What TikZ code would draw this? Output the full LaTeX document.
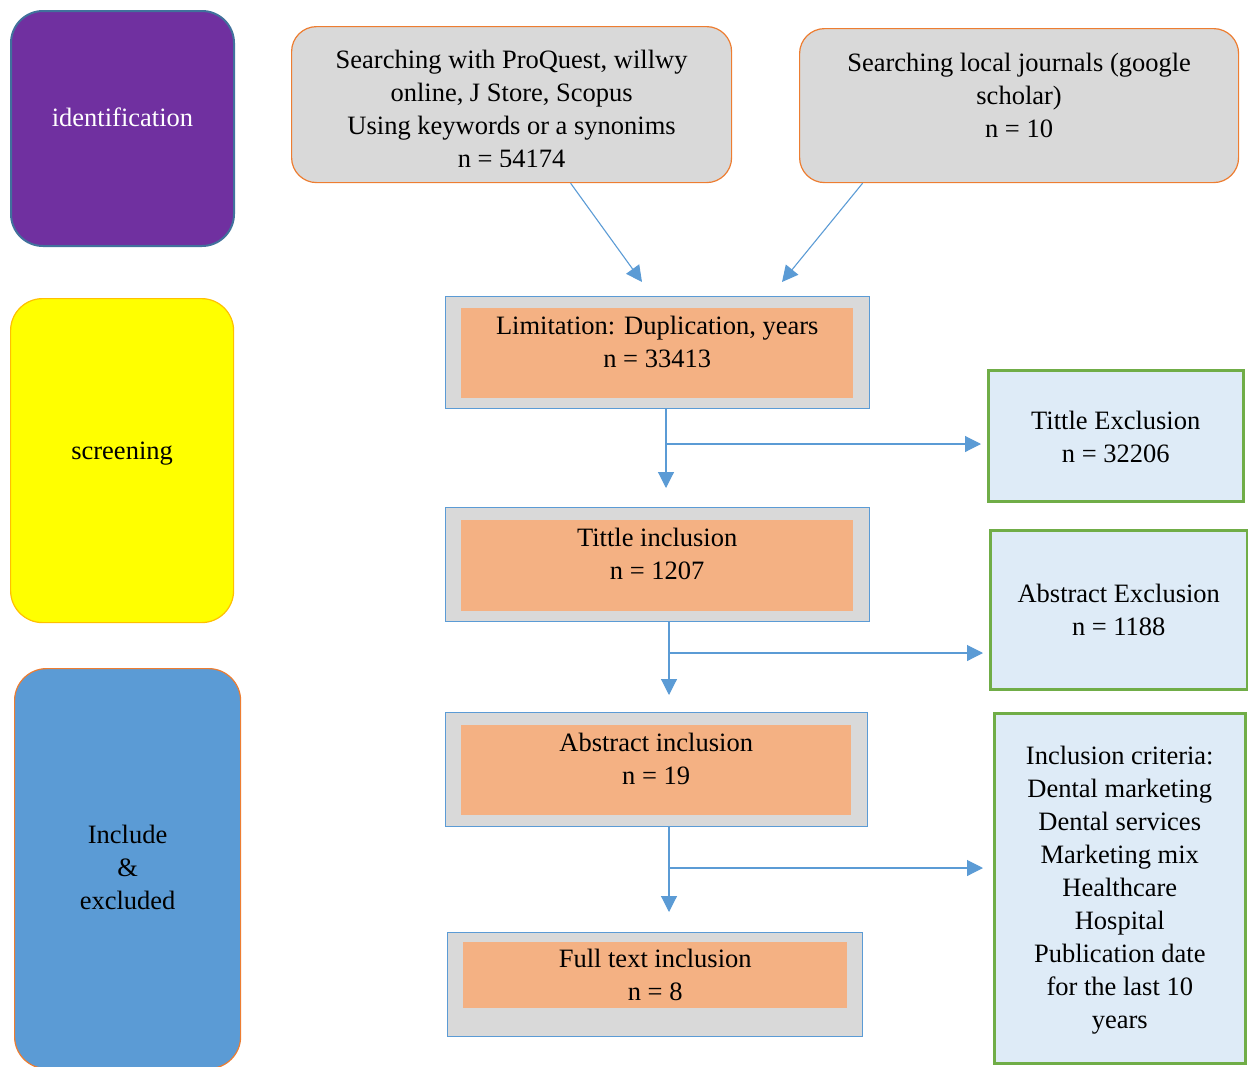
\documentclass[tikz,border=0pt]{standalone}
\usepackage{fontspec}
\setmainfont{Liberation Serif}
\usepackage{xcolor}
\definecolor{prspurple}{HTML}{7030A0}
\definecolor{prsyellow}{HTML}{FFFF00}
\definecolor{prsblue}{HTML}{5B9BD5}
\definecolor{prsgrey}{HTML}{D9D9D9}
\definecolor{prsorange}{HTML}{ED7D31}
\definecolor{prspeach}{HTML}{F4B183}
\definecolor{prsice}{HTML}{DEEBF7}
\definecolor{prsgreen}{HTML}{70AD47}
\definecolor{prsgold}{HTML}{FFC000}
\definecolor{prsnavy}{HTML}{41719C}
\usepackage{tikz}
\usetikzlibrary{arrows.meta,positioning,calc}
\tikzset{
  prstext/.style 2 args={inner sep=0pt,align=center,text height=#1pt,text depth=#2pt,font=\fontsize{26.5}{33}\selectfont},
  prsphase/.style={draw,rounded corners=32pt,line width=1.2pt,anchor=north west},
  prssearch/.style={draw=prsorange,fill=prsgrey,rounded corners=25pt,line width=1.2pt,anchor=north west},
  prsouter/.style={draw=prsblue,fill=prsgrey,line width=1.2pt,anchor=north west,inner sep=0pt},
  prsinner/.style={fill=prspeach,anchor=north west},
  prsside/.style={draw=prsgreen,fill=prsice,line width=2.5pt,anchor=north west},
  prsflow/.style={-{Triangle[length=16pt,width=16pt]},draw=prsblue,line width=1.1pt},
}

\begin{document}
\begin{tikzpicture}[x=1pt,y=-1pt]
\useasboundingbox (0,0) rectangle (1248,1066);
% phases
\node[prsphase,fill=prspurple,draw=prsnavy,line width=2pt,text=white,minimum width=223pt,prstext={115}{120}] (ident) at (10,10) {identification};
\node[prsphase,fill=prsyellow,draw=prsgold,minimum width=223pt,prstext={161}{163}] (screen) at (10,298) {screening};
\node[prsphase,fill=prsblue,draw=prsorange,minimum width=226pt,prstext={241}{159}] (incl) at (14,668) {Include\\ \&\\ excluded};
% sources
\node[prssearch,minimum width=440pt,minimum height=156pt] (search) at (291,26) {};
\begin{scope}
\clip (search.north west) rectangle ([yshift=17pt]search.south east);
\node[prstext={141}{1},anchor=north] (searchtxt) at (search.north) {Searching with ProQuest, willwy\\ online, J Store, Scopus\\ Using keywords or a synonims\\ n = 54174};
\end{scope}
\node[prssearch,minimum width=439pt,prstext={109}{45}] (local) at (799,28) {Searching local journals (google\\ scholar)\\ n = 10};
% stages
\node[prsouter,minimum width=424pt,minimum height=112pt] (limout) at (445,296) {};
\node[prsinner,minimum width=392pt,prstext={59}{31}] (lim) at (461,308) {Limitation: Duplication, years\\ n = 33413};
\node[prsouter,minimum width=424pt,minimum height=114pt] (tinout) at (445,507) {};
\node[prsinner,minimum width=392pt,prstext={59}{32}] (tin) at (461,520) {Tittle inclusion\\ n = 1207};
\node[prsouter,minimum width=422pt,minimum height=114pt] (ainout) at (445,712) {};
\node[prsinner,minimum width=390pt,prstext={59}{31}] (ain) at (461,725) {Abstract inclusion\\ n = 19};
\node[prsouter,minimum width=415pt,minimum height=104pt] (ftout) at (447,932) {};
\node[prsinner,minimum width=384pt,prstext={58}{8}] (ft) at (463,942) {Full text inclusion\\ n = 8};
% exclusions
\node[prsside,minimum width=255pt,prstext={92}{39}] (tex) at (987,369) {Tittle Exclusion\\ n = 32206};
\node[prsside,minimum width=257pt,prstext={105}{54}] (aex) at (989,529) {Abstract Exclusion\\ n = 1188};
\node[prsside,minimum width=251pt,prstext={315}{35}] (crit) at (993,712) {Inclusion criteria:\\ Dental marketing\\ Dental services\\ Marketing mix\\ Healthcare\\ Hospital\\ Publication date\\ for the last 10\\ years};
% flow
\coordinate (limtipL) at (642,282);
\coordinate (limtipR) at (782,282);
\coordinate (br1) at (666,444);
\coordinate (br2) at (669,653);
\coordinate (br3) at (669,868);
\draw[prsflow] ([xshift=59pt]search.south) -- (limtipL);
\draw[prsflow] ([xshift=-156.5pt]local.south) -- (limtipR);
\draw[prsflow,shorten >=19pt] (limout.south -| br1) -- (tinout.north -| br1);
\draw[prsflow,shorten >=6pt] (br1) -- (br1 -| tex.west);
\draw[prsflow,shorten >=17pt] (tinout.south -| br2) -- (ainout.north -| br2);
\draw[prsflow,shorten >=6pt] (br2) -- (br2 -| aex.west);
\draw[prsflow,shorten >=20pt] (ainout.south -| br3) -- (ftout.north -| br3);
\draw[prsflow,shorten >=10pt] (br3) -- (br3 -| crit.west);
\end{tikzpicture}
\end{document}
